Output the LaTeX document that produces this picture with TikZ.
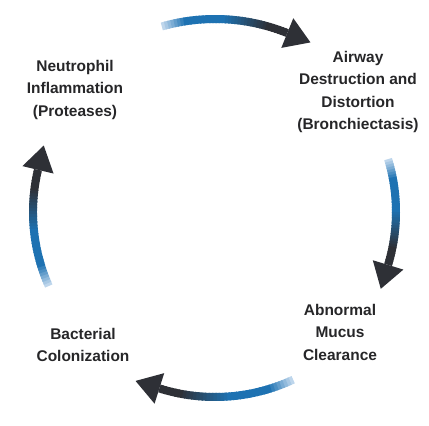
\documentclass[tikz,border=0pt]{standalone}
\usepackage{fontspec}
\setmainfont{Liberation Sans}
\usetikzlibrary{calc}
\definecolor{arrowtail}{RGB}{190,214,236}
\definecolor{arrowblue}{RGB}{30,114,178}
\definecolor{arrowdark}{RGB}{46,48,54}
\definecolor{labelgray}{RGB}{38,38,40}
% clockwise arrow round (hub): start angle, end angle, radius
\newcommand{\cyclearrow}[3]{%
  \foreach \i in {0,...,39}{
    \pgfmathsetmacro{\aa}{#1+(#2-#1)*\i/40}
    \pgfmathsetmacro{\ab}{#1+(#2-#1)*min(40,\i+1.4)/40}
    \pgfmathtruncatemacro{\pa}{min(100,\i*100/7)}
    \pgfmathtruncatemacro{\pb}{max(0,min(100,(\i-19)*100/14))}
    \colorlet{segtmp}{arrowblue!\pa!arrowtail}
    \colorlet{segcol}{arrowdark!\pb!segtmp}
    \draw[line width=0.2cm, segcol] ($(hub)+(\aa:#3)$) -- ($(hub)+(\ab:#3)$);
  }
  \fill[arrowdark] ($(hub)+(#2:#3)+(#2:16)$) -- ($(hub)+(#2:#3)+({#2-90}:25)$)
    -- ($(hub)+(#2:#3)+(#2:-16)$) -- cycle;
}
\begin{document}
\begin{tikzpicture}[x=0.025cm,y=0.025cm,
  label/.style={align=center, text=labelgray, font=\fontsize{11}{16}\selectfont\bfseries}]
\useasboundingbox (0,0) rectangle (429,-426);
\coordinate (hub) at (215,-212);
\node[label] (neut) at (75,-90) {Neutrophil\\Inflammation\\(Proteases)};
\node[label] (airway) at (358,-92) {Airway\\Destruction and\\Distortion\\(Bronchiectasis)};
\node[label] (mucus) at (340,-332) {Abnormal\\Mucus\\Clearance};
\node[label] (bact) at (83,-345) {Bacterial\\Colonization};
\cyclearrow{106}{68}{193}
\cyclearrow{17}{-17}{181}
\cyclearrow{-65}{-107.5}{185}
\cyclearrow{204}{166.6}{182}
\end{tikzpicture}
\end{document}
